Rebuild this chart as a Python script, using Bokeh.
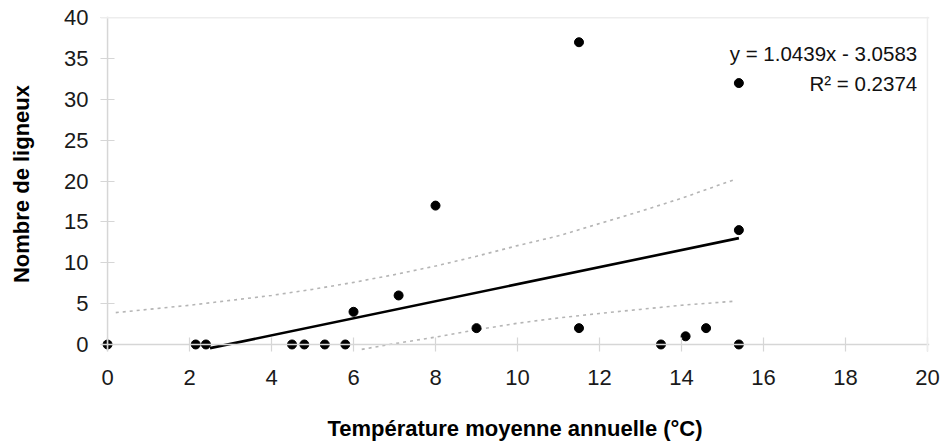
from bokeh.plotting import figure
from bokeh.models import Range1d, LinearAxis, FixedTicker, Span, Label
from bokeh.embed import file_html
from bokeh.resources import INLINE

# ---- data ----
temperature = [0, 2.15, 2.4, 4.5, 4.8, 5.3, 5.8, 6.0, 7.1, 8.0, 9.0, 11.5, 11.5,
               13.5, 14.1, 14.6, 15.4, 15.4, 15.4]
ligneux = [0, 0, 0, 0, 0, 0, 0, 4, 6, 17, 2, 37, 2, 0, 1, 2, 32, 14, 0]

slope = 1.0439
intercept = -3.0583
r2 = 0.2374
trend_x = [2.5, 15.4]

upper_x = [0.2, 1, 2, 3, 4, 5, 6, 7, 8, 9, 10, 11, 12, 13, 14, 15.3]
upper_y = [3.9, 4.3, 4.8, 5.4, 6.0, 6.75, 7.6, 8.55, 9.6, 10.8, 12.1, 13.3, 14.8, 16.3, 17.9, 20.2]
lower_x = [6.2, 7, 8, 9, 10, 11, 12, 13, 14, 15.3]
lower_y = [-0.6, 0.1, 0.9, 1.8, 2.6, 3.25, 3.8, 4.3, 4.8, 5.3]

x_ticks = [0, 2, 4, 6, 8, 10, 12, 14, 16, 18, 20]
y_ticks = [0, 5, 10, 15, 20, 25, 30, 35, 40]

x_title = "Température moyenne annuelle (°C)"
y_title = "Nombre de ligneux"
eq_text = "y = 1.0439x - 3.0583"
r2_text = "R² = 0.2374"

FONT = "Liberation Sans"
AXIS_GREY = "#d6d6d6"

p = figure(frame_width=829, frame_height=335, output_backend="svg",
           toolbar_location=None,
           x_range=Range1d(-0.172, 20.05), y_range=Range1d(-0.86, 40.15),
           min_border_left=100, min_border_right=12, min_border_top=16,
           min_border_bottom=94)
p.xgrid.visible = False
p.ygrid.visible = False
p.outline_line_color = None
p.background_fill_color = "white"
p.border_fill_color = "white"

for ax, ticks in ((p.xaxis[0], x_ticks), (p.yaxis[0], y_ticks)):
    ax.ticker = FixedTicker(ticks=ticks)
    ax.axis_line_color = None
    ax.major_tick_in = 14
    ax.major_tick_out = 0
    ax.major_tick_line_color = AXIS_GREY
    ax.major_tick_line_width = 1.2
    ax.minor_tick_line_color = None
    ax.major_label_text_font = FONT
    ax.major_label_text_font_size = "22px"
    ax.major_label_text_color = "#1a1a1a"
p.xaxis[0].major_label_standoff = 18
p.yaxis[0].major_label_standoff = 12

# title axes
xt = LinearAxis(ticker=FixedTicker(ticks=[]), axis_label=x_title,
                axis_line_color=None, major_tick_line_color=None,
                minor_tick_line_color=None, major_tick_in=0, major_tick_out=0,
                major_label_standoff=0, axis_label_standoff=28,
                axis_label_text_font=FONT, axis_label_text_font_style="bold",
                axis_label_text_font_size="22px", axis_label_text_color="black")
p.add_layout(xt, "below")
yt = LinearAxis(ticker=FixedTicker(ticks=[]), axis_label=y_title,
                axis_line_color=None, major_tick_line_color=None,
                minor_tick_line_color=None, major_tick_in=0, major_tick_out=0,
                major_label_standoff=0, axis_label_standoff=28,
                axis_label_text_font=FONT, axis_label_text_font_style="bold",
                axis_label_text_font_size="22px", axis_label_text_color="black")
p.add_layout(yt, "left")

# axis lines at zero and faint plot-area border (top and right)
p.add_layout(Span(location=0, dimension="width", line_color=AXIS_GREY, line_width=1.5))
p.add_layout(Span(location=0, dimension="height", line_color=AXIS_GREY, line_width=1.5))
p.add_layout(Span(location=40, dimension="width", line_color="#ededed", line_width=1.5))
p.add_layout(Span(location=20, dimension="height", line_color="#ededed", line_width=1.5))

# confidence bands
p.line(upper_x, upper_y, line_color="#b5b5b5", line_width=1.6, line_dash="3 4")
p.line(lower_x, lower_y, line_color="#b5b5b5", line_width=1.6, line_dash="3 4")

# trend line
trend_y = [slope * x + intercept for x in trend_x]
p.line(trend_x, trend_y, line_color="black", line_width=2.6)

# points
p.scatter(temperature, ligneux, size=9, color="black")

p.add_layout(Label(x=19.75, y=35.66, text=eq_text, text_align="right",
                   text_baseline="alphabetic", text_font=FONT,
                   text_font_size="20.5px", text_color="#111111"))
p.add_layout(Label(x=19.75, y=31.95, text=r2_text, text_align="right",
                   text_baseline="alphabetic", text_font=FONT,
                   text_font_size="20.5px", text_color="#111111"))

open("out.html", "w").write(file_html(p, INLINE))
